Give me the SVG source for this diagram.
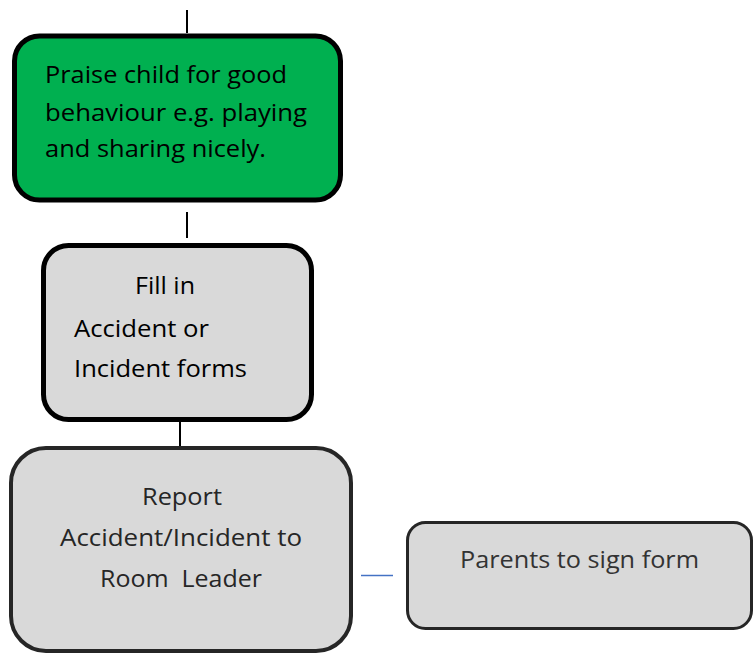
<svg xmlns="http://www.w3.org/2000/svg" width="753" height="655" viewBox="0 0 753 655">
<style>
text{font-family:"Open Sans","Noto Sans","Liberation Sans",sans-serif;font-size:23px;fill:#000}
.box{stroke:#000;stroke-width:5}
.grey{fill:#D9D9D9}
.dk{fill:#262626}
.conn{stroke:#000;stroke-width:2;fill:none}
</style>
<rect width="753" height="655" fill="#fff"/>
<g id="connectors">
<line class="conn" x1="187" y1="10" x2="187" y2="33"/>
<line class="conn" x1="187" y1="212" x2="187" y2="238"/>
<line class="conn" x1="180" y1="422" x2="180" y2="446"/>
<line x1="361" y1="575.5" x2="393" y2="575.5" stroke="#4472C4" stroke-width="1.5"/>
</g>
<g id="praise">
<rect class="box" x="14.5" y="36" width="326" height="164" rx="25" fill="#00B050"/>
<text x="45" y="83" textLength="242" lengthAdjust="spacingAndGlyphs">Praise child for good</text>
<text x="45" y="121" textLength="262" lengthAdjust="spacingAndGlyphs">behaviour e.g. playing</text>
<text x="45" y="157" textLength="221" lengthAdjust="spacingAndGlyphs">and sharing nicely.</text>
</g>
<g id="fill-in">
<rect class="box grey" x="43.5" y="245.5" width="268" height="174" rx="25"/>
<text x="135" y="294" textLength="60" lengthAdjust="spacingAndGlyphs">Fill in</text>
<text x="74" y="337" textLength="135" lengthAdjust="spacingAndGlyphs">Accident or</text>
<text x="74" y="377" textLength="173" lengthAdjust="spacingAndGlyphs">Incident forms</text>
</g>
<g id="report">
<rect class="grey" x="11" y="448" width="340" height="203" rx="35" stroke="#262626" stroke-width="4"/>
<text class="dk" x="142" y="505" textLength="80" lengthAdjust="spacingAndGlyphs">Report</text>
<text class="dk" x="60" y="546" textLength="242" lengthAdjust="spacingAndGlyphs">Accident/Incident to</text>
<text class="dk" x="100" y="587" textLength="162" lengthAdjust="spacingAndGlyphs" xml:space="preserve">Room  Leader</text>
</g>
<g id="parents">
<rect class="grey" x="407.5" y="522.5" width="344" height="106" rx="18" stroke="#262626" stroke-width="3"/>
<text x="460" y="568" textLength="239" lengthAdjust="spacingAndGlyphs" fill="#333" style="fill:#333">Parents to sign form</text>
</g>
</svg>
